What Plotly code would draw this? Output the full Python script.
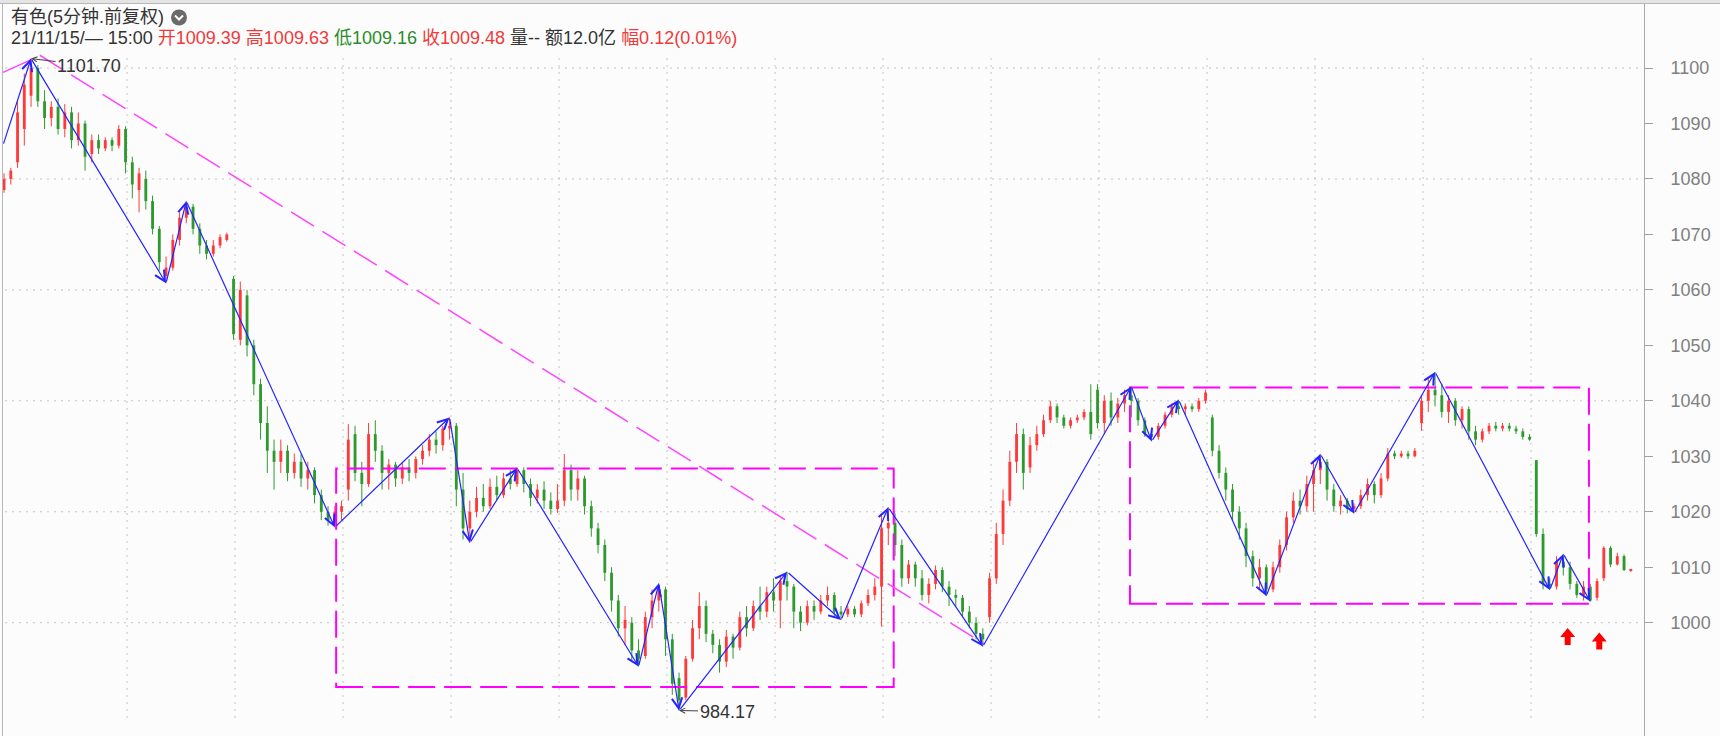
import plotly.graph_objects as go

# ---------------- data ----------------
open_ = [1078, 1080, 1083, 1089, 1095, 1100, 1094, 1091, 1093, 1089, 1092, 1087, 1090, 1084.5, 1087, 1085.5, 1087, 1086, 1089, 1083,
         1078, 1080, 1076, 1071, 1062.5, 1064, 1069, 1073, 1075, 1071, 1068, 1066.5, 1068, 1069, 1062, 1051, 1059, 1050, 1043, 1036,
         1031, 1029, 1031, 1027, 1029, 1026, 1027.5, 1023, 1020, 1018, 1020, 1024, 1034, 1027, 1025, 1034, 1031, 1027, 1028.5, 1026,
         1028, 1027, 1029.5, 1031, 1033, 1032, 1035, 1035.5, 1024, 1017, 1020, 1022.5, 1021, 1024.5, 1023, 1026, 1025, 1027.5, 1025, 1022.5,
         1024, 1022, 1020.5, 1022, 1027.5, 1024, 1026, 1021, 1017, 1014, 1009, 1004, 999, 1000, 995, 994, 1001, 1004, 1006, 997,
         990, 986.5, 993.5, 999, 1003, 998, 996, 993, 997.5, 995.5, 1001, 999, 1003, 1002, 1005.5, 1004, 1007.5, 1006.5, 1002, 1000,
         1003, 1002, 1004, 1005, 1002, 1001.5, 1002.5, 1001.5, 1003.5, 1005, 1006.5, 1017, 1018, 1014, 1008, 1010.5, 1008, 1005, 1007, 1009.5,
         1006.5, 1005, 1004.5, 1002, 1000, 998, 1001, 1008, 1016, 1022, 1029, 1034, 1028, 1032, 1034, 1036.5, 1039, 1037, 1035.5, 1036.5,
         1037, 1038, 1042, 1036, 1040, 1037, 1039.5, 1041, 1040, 1036.5, 1034, 1033.5, 1035.5, 1037.5, 1039, 1038.5, 1039, 1038.5, 1040, 1037,
         1031, 1027, 1024, 1020, 1017, 1012, 1008, 1010, 1006, 1010, 1014, 1019, 1022, 1021, 1025, 1027.5, 1029, 1024, 1021, 1022,
         1020.5, 1021, 1023, 1025, 1023, 1026, 1030.5, 1030, 1030.5, 1030, 1036, 1040, 1042, 1041, 1038, 1040, 1036.5, 1038.5, 1034.5, 1033,
         1034.5, 1035.5, 1035, 1035.5, 1035, 1034.5, 1033.5, 1029.3, 1016, 1007, 1006.5, 1011, 1010, 1007, 1005, 1006.5, 1004.5, 1008, 1013.5, 1010.5,
         1012, 1009.39]
high = [1081, 1082, 1094, 1099, 1101.7, 1100.5, 1096, 1094, 1094.5, 1093.5, 1093, 1092, 1090.5, 1088, 1088, 1087.5, 1087.5, 1089.7, 1089.5, 1084,
        1082, 1081.5, 1077, 1071.5, 1066, 1070, 1074, 1076, 1075.5, 1072, 1069, 1069, 1070, 1070.3, 1062.5, 1061.5, 1060, 1051, 1044, 1039,
        1033, 1033, 1032, 1030.5, 1030.4, 1029, 1028, 1024, 1021, 1021, 1022, 1035.8, 1035.5, 1029, 1036, 1036.5, 1032, 1029.5, 1029, 1029,
        1029.5, 1030, 1032, 1034, 1034.5, 1035.5, 1037, 1036, 1027, 1022, 1024.5, 1025, 1026, 1026.5, 1027, 1027.5, 1027.9, 1028, 1026, 1025,
        1025.5, 1023.5, 1025, 1030.4, 1028.5, 1027.5, 1026.5, 1022, 1018, 1015, 1010, 1005, 1003, 1001, 997, 1002, 1006, 1007.1, 1006.5, 998,
        991, 994, 1000.5, 1005.5, 1004, 998.7, 997, 998.7, 998, 1002, 1003, 1004, 1006.5, 1006.5, 1008, 1008.5, 1009.2, 1007, 1003, 1004,
        1004, 1005, 1006.5, 1005.5, 1003, 1003, 1003, 1004, 1006, 1008, 1019.6, 1020.8, 1019.7, 1015, 1011.3, 1011, 1009.5, 1008, 1010.3, 1010,
        1007.5, 1006, 1005, 1003, 1001, 999, 1009, 1018, 1024, 1031, 1036, 1035, 1033.5, 1035.5, 1037.5, 1040, 1039.5, 1037.5, 1037, 1037.5,
        1038.5, 1043, 1043, 1041, 1041.5, 1040.5, 1042, 1042.6, 1040.5, 1037, 1035, 1036, 1038, 1039.5, 1040.2, 1039.5, 1039.5, 1040.5, 1042, 1037.5,
        1032, 1028, 1025, 1021, 1018, 1013, 1011.5, 1010.5, 1011, 1015, 1020, 1023.5, 1024, 1026.5, 1029, 1030.4, 1029.5, 1025, 1023, 1022.5,
        1021.5, 1024, 1026, 1025.5, 1027, 1031.5, 1031, 1031, 1031, 1031.5, 1041, 1044, 1045.2, 1043, 1041, 1040.5, 1039, 1039, 1035.5, 1035,
        1036, 1036.2, 1036, 1036, 1035.5, 1035, 1034, 1029.3, 1017, 1008, 1012, 1012.4, 1011, 1007.5, 1007.5, 1007, 1008, 1013.8, 1013.8, 1012.6,
        1012.3, 1009.63]
low = [1077.5, 1079, 1082, 1086, 1093, 1093, 1089, 1089.5, 1088, 1087.5, 1085.5, 1086, 1081.5, 1083, 1084.5, 1085, 1085, 1085.5, 1081, 1076.5,
       1074, 1074.5, 1070, 1063.5, 1061.2, 1063.5, 1068, 1072, 1070, 1066.5, 1065.5, 1066, 1067.5, 1068.7, 1051, 1050, 1048, 1041, 1033, 1027,
       1024, 1027, 1025.5, 1026, 1024.5, 1024, 1021.5, 1018.5, 1017.5, 1017.2, 1018.5, 1022, 1025.5, 1021, 1024.5, 1029, 1024, 1024, 1024.5, 1025,
       1025.5, 1026, 1028.5, 1030, 1030.5, 1031, 1033, 1021, 1015, 1014.4, 1019, 1020, 1020.5, 1022, 1022.5, 1024, 1024.5, 1023.5, 1021, 1021.5,
       1020.5, 1019.5, 1019.8, 1021, 1022, 1022, 1019.5, 1015.5, 1012.5, 1007.5, 1002, 997.5, 996, 993, 992.1, 993.5, 999, 1002, 994, 987,
       984.17, 986, 993, 997, 996.5, 994.5, 991, 992, 993.5, 995, 997.5, 998.5, 1000.5, 1001, 1002, 999, 1004, 999, 998.5, 999.5,
       1000.5, 1001.5, 1003, 1001, 1000.5, 1001, 1001, 1001, 1003, 1004, 999.3, 1014, 1012, 1006.5, 1007, 1006.5, 1004, 1003.5, 1006, 1005.5,
       1003, 1003, 1001, 999, 997, 995.7, 1000, 1007, 1014, 1021, 1027, 1024, 1027, 1031, 1033.5, 1036, 1036, 1035, 1035, 1036,
       1036.5, 1033, 1035, 1034, 1035.5, 1036, 1038, 1037, 1035.5, 1033.5, 1032.7, 1033, 1035, 1037, 1037.5, 1037.5, 1038, 1038, 1039.5, 1030,
       1026, 1022, 1018.5, 1015, 1010, 1006.5, 1006, 1004.8, 1005.5, 1009, 1013, 1018, 1019.5, 1020, 1020, 1025, 1022, 1020, 1019.5, 1019.7,
       1019.7, 1020.5, 1022, 1021.5, 1022.5, 1025.5, 1029.5, 1029.7, 1029.5, 1029.8, 1034.6, 1038, 1039, 1037, 1036, 1035.5, 1035, 1033, 1032, 1032.5,
       1034, 1034.5, 1034.5, 1034.5, 1034, 1033, 1032.8, 1015.5, 1006, 1005.9, 1006, 1008.5, 1006, 1004.5, 1004, 1003.8, 1004, 1007.5, 1010, 1010.3,
       1009.3, 1009.16]
close = [1080, 1081.5, 1092, 1097, 1100, 1094, 1091, 1093, 1089, 1092, 1087, 1090, 1084, 1087, 1085.5, 1087, 1086, 1089, 1083, 1079,
         1081, 1076, 1071, 1065, 1064, 1069, 1073, 1075, 1071, 1068, 1066.5, 1068, 1069.5, 1070, 1052, 1060, 1050, 1043, 1036, 1031,
         1029, 1031, 1027, 1029, 1026, 1027.5, 1023, 1020, 1018.5, 1020, 1021, 1033, 1027, 1025, 1034, 1031, 1027, 1028.5, 1026, 1028,
         1027, 1029.5, 1031, 1033, 1032, 1035, 1035.5, 1024, 1017, 1020, 1022.5, 1021, 1024.5, 1023, 1026, 1025, 1027.5, 1025, 1022.5, 1024,
         1022, 1020.5, 1022, 1027.5, 1024, 1026, 1021, 1017, 1014, 1009, 1004, 999, 1000.5, 995, 993.5, 1001, 1004, 1006, 997, 989,
         986, 993.5, 999, 1003, 998, 996, 993, 997.5, 995.5, 1001, 999, 1003, 1002, 1005.5, 1004, 1007.5, 1006.5, 1002, 1000, 1003,
         1002, 1004, 1005, 1002, 1001.5, 1002.5, 1001.5, 1003.5, 1005, 1006.5, 1017, 1018, 1014, 1008, 1010.5, 1008, 1005, 1007, 1009.5, 1006.5,
         1005, 1004.5, 1002, 1000, 998, 997, 1008, 1016, 1022, 1029, 1034, 1027, 1032, 1034, 1036.5, 1039, 1037, 1035.5, 1036.5, 1037,
         1038, 1034, 1036, 1040, 1037, 1039.5, 1041, 1040, 1036.5, 1034, 1033.5, 1035.5, 1037.5, 1039, 1038.5, 1039, 1038.5, 1040, 1041.5, 1031,
         1027, 1024, 1020, 1017, 1012, 1008, 1010, 1006, 1010, 1014, 1019, 1022, 1021, 1025, 1027.5, 1029, 1024, 1021, 1022, 1020.5,
         1021, 1023, 1025, 1023, 1026, 1030.5, 1030, 1030.5, 1030, 1031, 1040, 1042, 1041, 1038, 1040, 1036.5, 1038.5, 1034.5, 1033, 1034.5,
         1035.5, 1035, 1035.5, 1035, 1034.5, 1033.5, 1033, 1016, 1007, 1006.5, 1011, 1010, 1007, 1005, 1006.5, 1004, 1007.5, 1013.5, 1010.5, 1012,
         1009.5, 1009.48]

# zigzag (bar index, price)
zz_idx = [-0.15, 4, 24, 27, 49, 66, 69, 76, 94, 97, 100, 116, 124, 131, 145, 167, 170, 174, 187, 195, 200, 212, 229, 231, 235]
zz_val = [1086.1, 1101.7, 1061.2, 1076.0, 1017.2, 1037.0, 1014.4, 1027.9, 992.1, 1007.1, 984.17, 1009.2, 1000.5, 1020.8,
          995.7, 1042.6, 1032.7, 1040.2, 1004.8, 1030.4, 1019.7, 1045.2, 1005.9, 1012.4, 1003.8]

# consolidation boxes: (start bar, end bar, low, high)
box_x0 = [49.2, 166.8]
box_x1 = [131.8, 234.8]
box_lo = [988.4, 1003.4]
box_hi = [1027.8, 1042.4]

# trend line (bar, price) endpoints
trend_idx = [5.3, 145.2]
trend_val = [1102.3, 996.2]
lead_idx = [-0.15, 4.2]
lead_val = [1099.2, 1101.6]

# red signal arrows (bar, price)
sig_idx = [231.65, 236.33]
sig_val = [997.4, 996.6]

y_ticks = list(range(1000, 1101, 10))
grid_vals = list(range(1000, 1101, 20))

title1 = "有色(5分钟.前复权)"
hdr = [("21/11/15/— 15:00 ", "#333333"), ("开1009.39 ", "#f03a3a"), ("高1009.63 ", "#f03a3a"),
       ("低1009.16 ", "#2a8c2a"), ("收1009.48 ", "#f03a3a"), ("量-- 额12.0亿 ", "#333333"),
       ("幅0.12(0.01%)", "#f03a3a")]

# ---------------- layout geometry ----------------
W, H = 1720, 736
PLOT_R = 1644
PLOT_TOP = 4
BAR_PX = 6.75
X0 = -0.6
x_range = [X0, X0 + PLOT_R / BAR_PX]
PPU = 5.547
y_range = [1000 - (H - 622.7) / PPU, 1100 + (68 - PLOT_TOP) / PPU]

RED = "#ff3a3a"
GREEN = "#2e9a2e"
BLUE = "#2424ff"
MAG = "#ff00ff"

def px2x(p):
    return p / BAR_PX + X0

def py2v(p):
    return 1100 - (p - 68) / PPU

fig = go.Figure()

n = len(close)
for col, cond in ((RED, lambda i: close[i] >= open_[i]), (GREEN, lambda i: close[i] < open_[i])):
    ids = [i for i in range(n) if cond(i)]
    wx, wy = [], []
    for i in ids:
        wx += [i, i, None]
        wy += [low[i], high[i], None]
    fig.add_trace(go.Scatter(x=wx, y=wy, mode="lines", line=dict(color=col, width=1),
                             hoverinfo="skip", showlegend=False))
    fig.add_trace(go.Bar(x=ids, y=[max(abs(close[i] - open_[i]), 0.3) for i in ids],
                         base=[min(open_[i], close[i]) for i in ids], width=0.42,
                         marker=dict(color=col, line=dict(width=0)), hoverinfo="skip", showlegend=False))

shapes = []
# grid
for g in grid_vals:
    shapes.append(dict(type="line", xref="x", yref="y", x0=px2x(5), x1=px2x(1640), y0=g, y1=g,
                       line=dict(color="#c4c4c4", width=1, dash="2px,5px"), layer="below"))
for k in range(14):
    gx = px2x(127 + 108 * k)
    shapes.append(dict(type="line", xref="x", yref="y", x0=gx, x1=gx, y0=py2v(58), y1=py2v(719),
                       line=dict(color="#c4c4c4", width=1, dash="2px,5px"), layer="below"))
# frame
shapes.append(dict(type="rect", xref="paper", yref="paper", x0=0, x1=1, y0=1 - 3.5 / H, y1=1,
                   fillcolor="#e4e4e4", line=dict(width=0)))
shapes.append(dict(type="line", xref="paper", yref="paper", x0=0, x1=1, y0=1 - 3.5 / H, y1=1 - 3.5 / H,
                   line=dict(color="#b8b8b8", width=1)))
shapes.append(dict(type="line", xref="paper", yref="paper", x0=2.5 / W, x1=2.5 / W, y0=0, y1=1 - 3.5 / H,
                   line=dict(color="#b8b8b8", width=1)))
# boxes
for a, b, lo, hi in zip(box_x0, box_x1, box_lo, box_hi):
    shapes.append(dict(type="rect", xref="x", yref="y", x0=a, x1=b, y0=lo, y1=hi,
                       line=dict(color=MAG, width=2, dash="27px,9px"), layer="above"))
# trend lines
shapes.append(dict(type="line", xref="x", yref="y", x0=trend_idx[0], x1=trend_idx[1], y0=trend_val[0], y1=trend_val[1],
                   line=dict(color="#ff44ff", width=1.5, dash="27px,10px"), layer="above"))
shapes.append(dict(type="line", xref="x", yref="y", x0=lead_idx[0], x1=lead_idx[1], y0=lead_val[0], y1=lead_val[1],
                   line=dict(color="#ff44ff", width=1.5), layer="above"))
# red arrows
for sx, sv in zip(sig_idx, sig_val):
    shapes.append(dict(type="path", xref="x", yref="y", xsizemode="pixel", ysizemode="pixel",
                       xanchor=sx, yanchor=sv,
                       path="M-3,-8 L3,-8 L3,0 L7.5,0 L0,9 L-7.5,0 L-3,0 Z",
                       fillcolor="#ff0000", line=dict(width=0), layer="above"))
# header icon
shapes.append(dict(type="circle", xref="paper", yref="paper", x0=171 / W, x1=187 / W,
                   y0=1 - 25.5 / H, y1=1 - 9.5 / H, fillcolor="#6a6a6a", line=dict(width=0)))
shapes.append(dict(type="path", xref="paper", yref="paper",
                   path=f"M{175/W},{1-15.5/H} L{179/W},{1-19.5/H} L{183/W},{1-15.5/H}",
                   line=dict(color="#ffffff", width=2)))

ann = []
for k in range(len(zz_idx) - 1):
    ann.append(dict(x=zz_idx[k + 1], y=zz_val[k + 1], ax=zz_idx[k], ay=zz_val[k],
                    xref="x", yref="y", axref="x", ayref="y", text="", showarrow=True,
                    arrowhead=5, arrowsize=1.7, arrowwidth=1.2, arrowcolor=BLUE, standoff=0))
# extreme labels
ann.append(dict(x=zz_idx[1], y=zz_val[1], xref="x", yref="y", text=f"{zz_val[1]:.2f}",
                showarrow=True, ax=58, ay=7, arrowhead=5, arrowsize=1, arrowwidth=1, arrowcolor="#404040",
                font=dict(size=18, color="#333333", family="Liberation Sans")))
ann.append(dict(x=zz_idx[10], y=zz_val[10], xref="x", yref="y", text=f"{zz_val[10]:.2f}",
                showarrow=True, ax=48, ay=1, arrowhead=5, arrowsize=1, arrowwidth=1, arrowcolor="#404040",
                font=dict(size=18, color="#333333", family="Liberation Sans")))
# header
ann.append(dict(x=9 / W, y=1 - 17.5 / H, xref="paper", yref="paper", xanchor="left", yanchor="middle",
                text=title1, showarrow=False, font=dict(size=18, color="#333333")))
ann.append(dict(x=9 / W, y=1 - 38 / H, xref="paper", yref="paper", xanchor="left", yanchor="middle",
                text="".join(f'<span style="color:{c}">{t}</span>' for t, c in hdr),
                showarrow=False, font=dict(size=18, color="#333333")))

fig.update_layout(
    width=W, height=H,
    margin=dict(l=0, r=0, t=0, b=0),
    paper_bgcolor="#fcfcfc", plot_bgcolor="#fcfcfc",
    font=dict(family="Liberation Sans, Noto Sans CJK SC, sans-serif", size=18),
    barmode="overlay", showlegend=False,
    xaxis=dict(domain=[0, PLOT_R / W], range=x_range, visible=False, fixedrange=True),
    yaxis=dict(domain=[0, (H - PLOT_TOP) / H], range=y_range, side="right", anchor="x",
               tickvals=y_ticks, ticks="outside", ticklen=8, tickwidth=1, tickcolor="#a0a0a0",
               showline=True, linecolor="#a8a8a8", linewidth=1, showgrid=False, zeroline=False,
               tickfont=dict(size=18, color="#808080", family="Liberation Sans"),
               ticklabelstandoff=14, fixedrange=True),
    shapes=shapes, annotations=ann,
)

fig.write_html("out.html", config={"displayModeBar": False},
               post_script="document.body.style.margin='0px';document.body.style.overflow='hidden';")
